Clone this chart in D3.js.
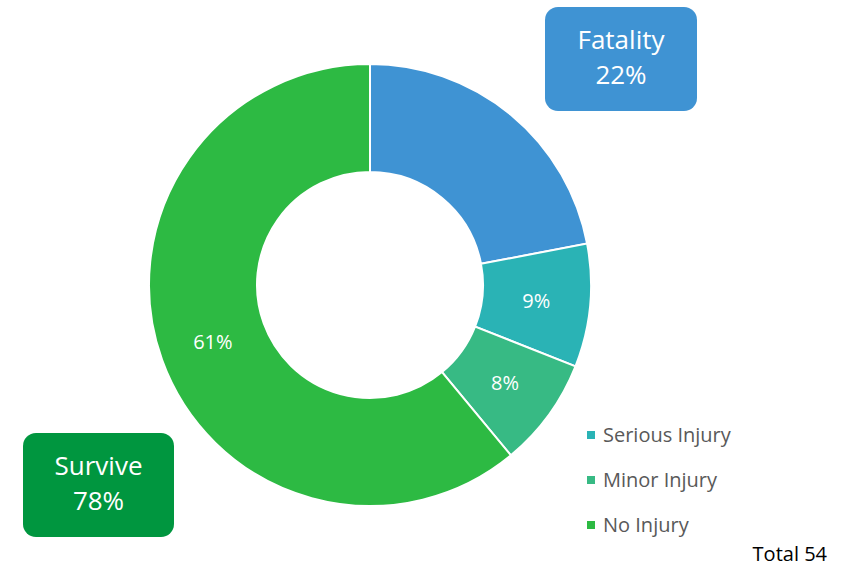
<!DOCTYPE html>
<html>
<head>
<meta charset="utf-8">
<script src="https://cdn.jsdelivr.net/npm/d3@7.9.0/dist/d3.min.js"></script>
<style>
  body { margin: 0; background: #fff; }
  svg { display: block; font-family: 'Open Sans', sans-serif; }
</style>
</head>
<body>
<svg id="chart" width="851" height="568"></svg>
<script>
const categories = ['Fatality', 'Serious Injury', 'Minor Injury', 'No Injury'];
const shares = [22, 9, 8, 61];
const sliceColors = ['#3F93D3', '#2AB3B5', '#37BA84', '#2DBA43'];
const legendItems = ['Serious Injury', 'Minor Injury', 'No Injury'];
const callouts = [
  { label: 'Fatality', value: '22%', color: '#3F93D3' },
  { label: 'Survive', value: '78%', color: '#00963F' }
];
const totalLabel = 'Total 54';

const svg = d3.select('#chart');
const cx = 370, cy = 285;
const outerR = 221, innerR = 113;
const total = d3.sum(shares);

const data = categories.map((c, i) => ({ label: c, value: shares[i] }));
const colors = d3.scaleOrdinal().domain(categories).range(sliceColors);

const pie = d3.pie().value((d) => d.value).sort(null);
const arc = d3.arc().innerRadius(innerR).outerRadius(outerR);
const labelArc = d3.arc().innerRadius((innerR + outerR) / 2).outerRadius((innerR + outerR) / 2);
const arcs = pie(data);

const g = svg.append('g').attr('transform', `translate(${cx},${cy})`);

g.selectAll('path')
  .data(arcs)
  .join('path')
  .attr('d', arc)
  .attr('fill', (d) => colors(d.data.label))
  .attr('stroke', '#fff')
  .attr('stroke-width', 2);

// fatality share is shown in its own callout, not on the slice
g.selectAll('text.pct')
  .data(arcs.filter((d) => d.data.label !== 'Fatality'))
  .join('text')
  .attr('class', 'pct')
  .attr('transform', (d) => `translate(${labelArc.centroid(d)})`)
  .attr('text-anchor', 'middle')
  .attr('dy', '0.36em')
  .attr('fill', '#fff')
  .attr('font-size', 20)
  .text((d) => `${Math.round((d.data.value / total) * 100)}%`);

// callout boxes
const boxes = [
  { x: 545, y: 7, w: 152, h: 104 },
  { x: 23, y: 433, w: 151, h: 104 }
];
callouts.forEach((c, i) => {
  const b = boxes[i];
  svg.append('rect')
    .attr('x', b.x).attr('y', b.y)
    .attr('width', b.w).attr('height', b.h)
    .attr('rx', 13)
    .attr('fill', c.color);
  const t = svg.append('text')
    .attr('text-anchor', 'middle')
    .attr('fill', '#fff')
    .attr('font-size', 26);
  t.append('tspan').attr('x', b.x + b.w / 2).attr('y', b.y + 42).text(c.label);
  t.append('tspan').attr('x', b.x + b.w / 2).attr('y', b.y + 77).text(c.value);
});

// legend
const legend = svg.append('g').attr('transform', 'translate(587,435)');
legendItems.forEach((name, i) => {
  const row = legend.append('g').attr('transform', `translate(0,${i * 45})`);
  row.append('rect')
    .attr('x', 0).attr('y', -4)
    .attr('width', 8).attr('height', 8)
    .attr('fill', colors(name));
  row.append('text')
    .attr('x', 16).attr('y', 0)
    .attr('dy', '0.36em')
    .attr('fill', '#595959')
    .attr('font-size', 20)
    .text(name);
});

svg.append('text')
  .attr('x', 827).attr('y', 561)
  .attr('text-anchor', 'end')
  .attr('fill', '#000')
  .attr('font-size', 20)
  .text(totalLabel);
</script>
</body>
</html>
